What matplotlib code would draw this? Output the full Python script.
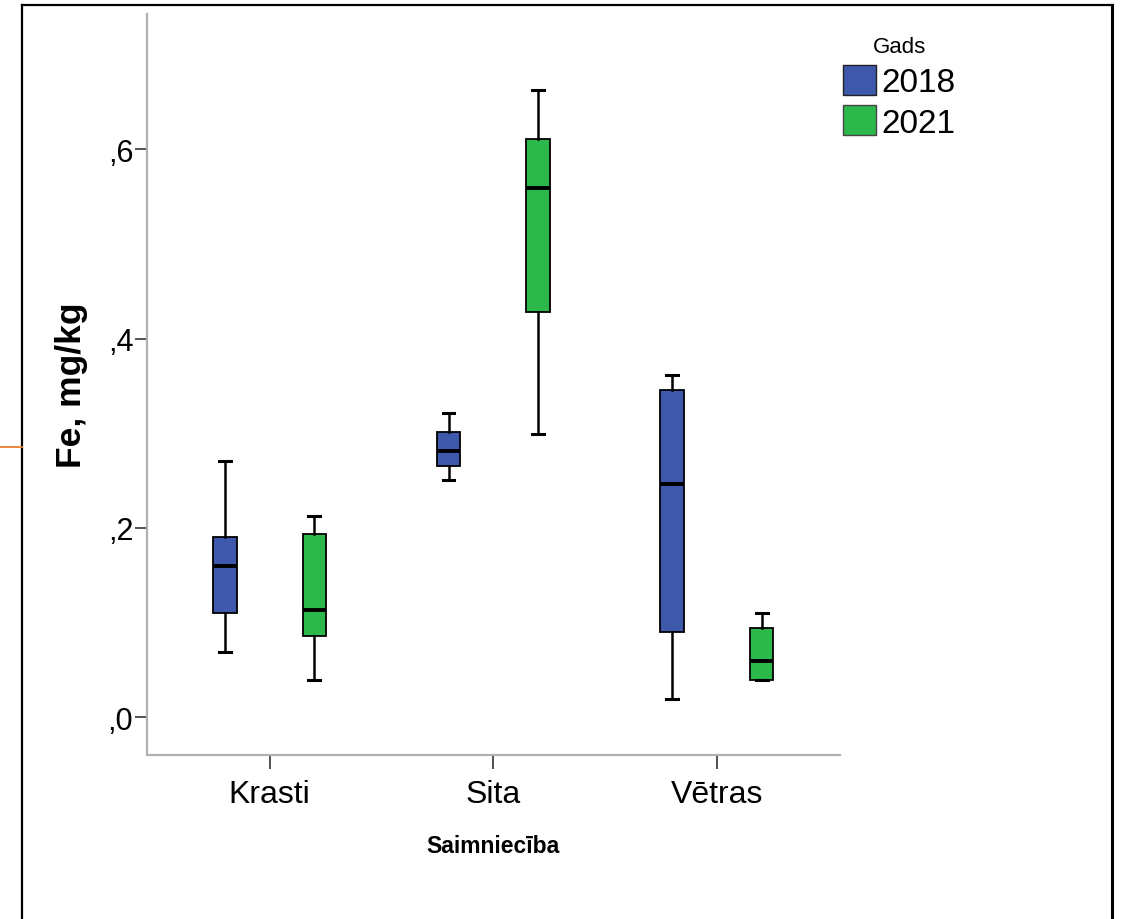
import matplotlib
matplotlib.use("Agg")
import matplotlib.pyplot as plt
from matplotlib.patches import Patch
from matplotlib.lines import Line2D

plt.rcParams['font.family'] = ['Liberation Sans', 'DejaVu Sans']

# dati (nolasīti no attēla): kopsavilkuma statistika katrai kastei
farms = ["Krasti", "Sita", "Vētras"]
years = ["2018", "2021"]
# secība: Krasti, Sita, Vētras
lo_2018 = [0.069, 0.251, 0.019]
q1_2018 = [0.110, 0.265, 0.090]
med_2018 = [0.160, 0.281, 0.246]
q3_2018 = [0.190, 0.301, 0.346]
hi_2018 = [0.271, 0.321, 0.362]

lo_2021 = [0.039, 0.299, 0.039]
q1_2021 = [0.086, 0.428, 0.039]
med_2021 = [0.113, 0.559, 0.060]
q3_2021 = [0.194, 0.611, 0.094]
hi_2021 = [0.213, 0.663, 0.110]

yticks = [0.0, 0.2, 0.4, 0.6]
ytick_labels = [",0", ",2", ",4", ",6"]

BLUE = "#3E58AC"
GREEN = "#2DB84B"
OFF = 0.2
W = 0.105


def stats(lo, q1, med, q3, hi):
    return [dict(whislo=a, q1=b, med=c, q3=d, whishi=e, fliers=[])
            for a, b, c, d, e in zip(lo, q1, med, q3, hi)]


fig = plt.figure(figsize=(11.23, 9.20), dpi=100)
ax = fig.add_axes([146.5 / 1123, 1 - 755.5 / 920, (840 - 146.5) / 1123, (755.5 - 15) / 920])

groups = [(stats(lo_2018, q1_2018, med_2018, q3_2018, hi_2018), -OFF, BLUE),
          (stats(lo_2021, q1_2021, med_2021, q3_2021, hi_2021), OFF, GREEN)]
for st, off, col in groups:
    pos = [i + off for i in range(len(farms))]
    ax.bxp(st, positions=pos, widths=W, patch_artist=True, showfliers=False,
           capwidths=W / 2,
           boxprops=dict(facecolor=col, edgecolor="black", linewidth=1.3),
           medianprops=dict(color="black", linewidth=2.8, solid_capstyle="butt"),
           whiskerprops=dict(color="black", linewidth=1.8),
           capprops=dict(color="black", linewidth=2.2), manage_ticks=False)

ax.set_xlim(-0.55, 2.55)
ax.set_ylim(-0.0393, 0.743)
ax.set_xticks(range(len(farms)))
ax.set_xticklabels(farms, fontsize=23)
ax.set_yticks(yticks)
ax.set_yticklabels(ytick_labels, fontsize=22)
ax.tick_params(axis="x", length=10, width=1.2, color="#333333", pad=8)
ax.tick_params(axis="y", length=8.5, width=1.2, color="#333333", pad=1)
for s in ("top", "right"):
    ax.spines[s].set_visible(False)
for s in ("left", "bottom"):
    ax.spines[s].set_color("#b0b0b0")
    ax.spines[s].set_linewidth(1.6)

ax.set_xlabel("Saimniecība", fontsize=16.5, fontweight="bold", labelpad=18)
ax.set_ylabel("Fe, mg/kg", fontsize=25.5, fontweight="bold", labelpad=14)

handles = [Patch(facecolor=BLUE, edgecolor="#222222", label=years[0]),
           Patch(facecolor=GREEN, edgecolor="#444444", label=years[1])]
leg = fig.legend(handles=handles, title="Gads", loc="upper left",
                 bbox_to_anchor=(830 / 1123, 1 - 24 / 920), frameon=False,
                 fontsize=24, title_fontsize=16, handlelength=0.98,
                 handleheight=1.0, handletextpad=0.15, labelspacing=0.22,
                 borderaxespad=0)

# ramis un oranžā līnija pa kreisi
fig.add_artist(Line2D([22 / 1123, 22 / 1123], [0, 1 - 6 / 920], color="black", lw=1.6,
                      transform=fig.transFigure))
fig.add_artist(Line2D([22 / 1123, 1111.5 / 1123], [1 - 6 / 920, 1 - 6 / 920], color="black",
                      lw=1.6, transform=fig.transFigure))
fig.add_artist(Line2D([1111.5 / 1123, 1111.5 / 1123], [0, 1 - 6 / 920], color="black", lw=2.2,
                      transform=fig.transFigure))
fig.add_artist(Line2D([0, 22 / 1123], [1 - 447.7 / 920, 1 - 447.7 / 920], color="#ED7D31",
                      lw=1.3, transform=fig.transFigure))

fig.savefig("out.png", dpi=100)
